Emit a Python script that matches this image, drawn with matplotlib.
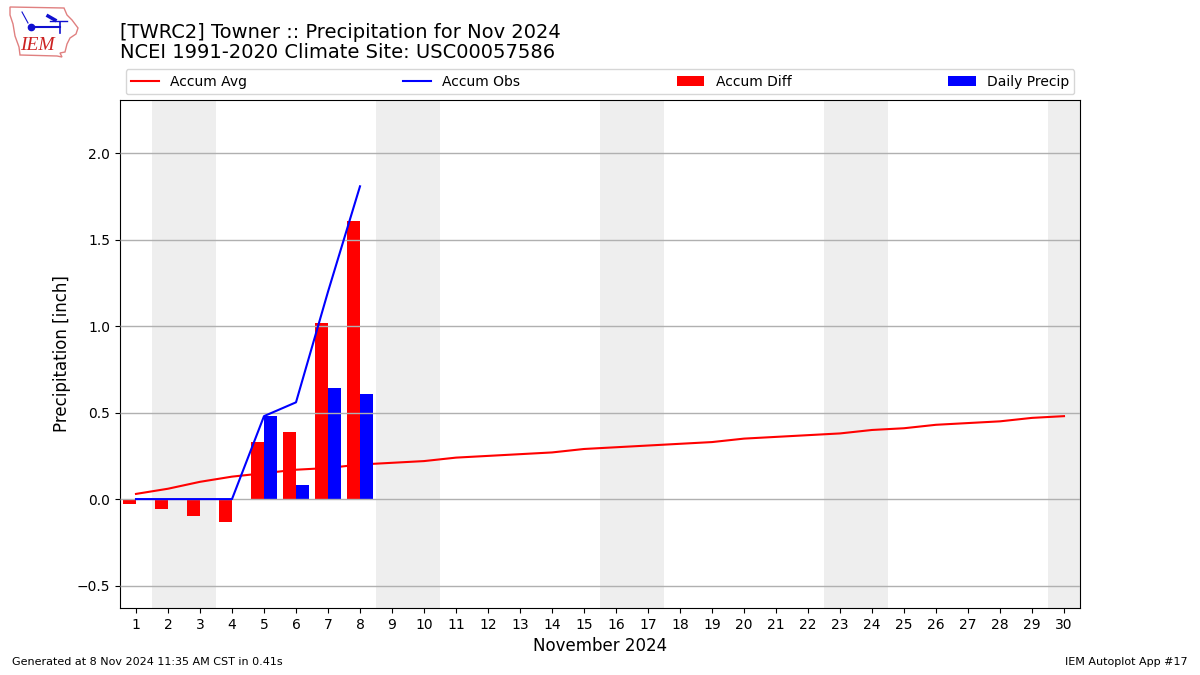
import matplotlib
matplotlib.use("Agg")
import matplotlib.pyplot as plt
from matplotlib.patches import Polygon

days = list(range(1, 31))
accum_avg = [0.03, 0.06, 0.10, 0.13, 0.15, 0.17, 0.18, 0.20, 0.21, 0.22,
             0.24, 0.25, 0.26, 0.27, 0.29, 0.30, 0.31, 0.32, 0.33, 0.35,
             0.36, 0.37, 0.38, 0.40, 0.41, 0.43, 0.44, 0.45, 0.47, 0.48]
obs_days = [1, 2, 3, 4, 5, 6, 7, 8]
accum_obs = [0.0, 0.0, 0.0, 0.0, 0.48, 0.56, 1.20, 1.81]
accum_diff = [-0.03, -0.06, -0.10, -0.13, 0.33, 0.39, 1.02, 1.61]
daily_precip = [0.0, 0.0, 0.0, 0.0, 0.48, 0.08, 0.64, 0.61]
weekends = [(1.5, 3.5), (8.5, 10.5), (15.5, 17.5), (22.5, 24.5), (29.5, 31.0)]

fig = plt.figure(figsize=(12, 6.75), dpi=100)
ax = fig.add_axes([0.1, 0.0993, 0.8, 0.7527])

for start, end in weekends:
    ax.axvspan(start, end, color="#eeeeee", lw=0, zorder=0)

ax.plot(days, accum_avg, color="red", label="Accum Avg", zorder=1.5)
ax.plot(obs_days, accum_obs, color="blue", label="Accum Obs", zorder=3)
ax.bar(obs_days, accum_diff, width=-0.4, align="edge", color="red", label="Accum Diff", zorder=2)
ax.bar(obs_days, daily_precip, width=0.4, align="edge", color="blue", label="Daily Precip", zorder=2)

ax.set_xlim(0.5, 30.5)
ax.set_ylim(-0.63, 2.31)
ax.set_xticks(days)
ax.set_yticks([-0.5, 0.0, 0.5, 1.0, 1.5, 2.0])
ax.yaxis.grid(True, color="#b0b0b0", lw=1, zorder=1)
ax.set_axisbelow(False)
ax.xaxis.set_tick_params(labelsize=10)
ax.set_xlabel("November 2024", fontsize=12)
ax.set_ylabel("Precipitation [inch]", fontsize=12)
ax.legend(loc="lower left", bbox_to_anchor=(0, 1.0, 1, 0.1), ncol=4, mode="expand",
          borderaxespad=0.4, fontsize=10)

fig.text(0.1, 0.9085, "[TWRC2] Towner :: Precipitation for Nov 2024\nNCEI 1991-2020 Climate Site: USC00057586",
         fontsize=14, va="bottom", ha="left", linespacing=1.05)
fig.text(0.01, 0.012, "Generated at 8 Nov 2024 11:35 AM CST in 0.41s", fontsize=8, va="bottom")
fig.text(0.99, 0.012, "IEM Autoplot App #17", fontsize=8, va="bottom", ha="right")

# logo, drawn in pixel coords of the top left corner
logo = fig.add_axes([0, 1 - 60 / 675, 85 / 1200, 60 / 675])
logo.set_xlim(0, 85)
logo.set_ylim(60, 0)
logo.axis("off")
outline = [(10, 7), (64, 8), (67, 15), (72, 20), (78, 28), (76, 34), (70, 38), (67, 44),
           (65, 52), (60, 53), (62, 57), (57, 56), (20, 55), (19, 47), (15, 36), (13, 24), (10, 15)]
logo.add_patch(Polygon(outline, closed=True, fill=False, ec="#e08080", lw=1))
logo.plot([30, 60], [27, 27], color="#1010d0", lw=1.5)
logo.plot([60, 60], [22, 33], color="#1010d0", lw=1.2)
logo.plot([50, 67], [21, 21], color="#1010d0", lw=1)
logo.plot([48, 55], [16, 20], color="#1010d0", lw=2.5)
logo.plot([22, 28], [12, 23], color="#1010d0", lw=0.8)
logo.plot([31], [27], "o", color="#1010d0", ms=4.5)
logo.text(37.5, 46, "IEM", color="#cc2222", fontsize=14, family="Liberation Serif",
          style="italic", ha="center", va="center")

fig.savefig("out.png", dpi=100)
